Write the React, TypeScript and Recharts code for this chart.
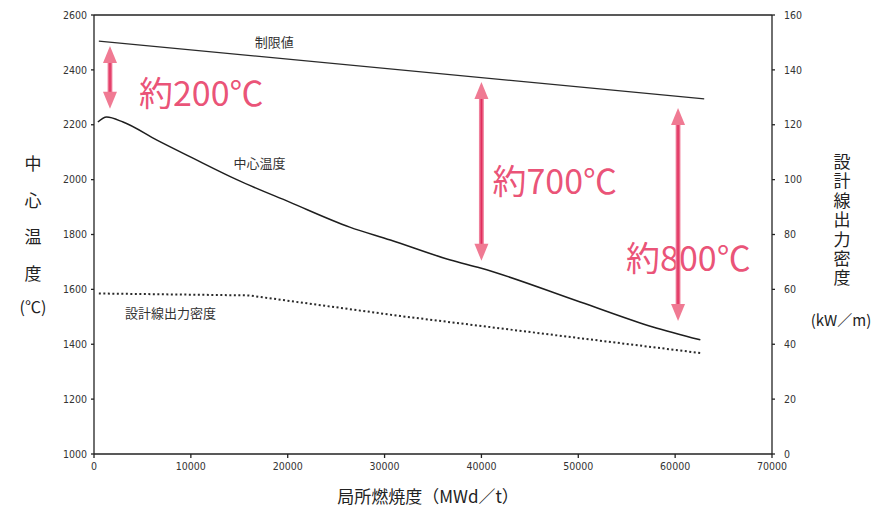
import React from 'react';
import {
    ComposedChart,
    Line,
    XAxis,
    YAxis,
    ReferenceLine,
    ReferenceDot,
} from 'recharts';

// 局所燃焼度 (MWd/t) と各曲線の値
const limitBurnup = [500, 63000];
const limitTemp = [2505, 2294];

const centerBurnup = [400, 1300, 3000, 6500, 10000, 14800, 20200, 26400, 30600, 36800, 39900, 50200, 57700, 62600];
const centerTemp = [2210, 2228, 2210, 2144, 2082, 1999, 1918, 1827, 1780, 1707, 1678, 1554, 1463, 1416];

const powerBurnup = [500, 16000, 31600, 62600];
const powerDensity = [58.5, 57.8, 50.3, 36.8];

const burnupTicks = [0, 10000, 20000, 30000, 40000, 50000, 60000, 70000];
const tempTicks = [1000, 1200, 1400, 1600, 1800, 2000, 2200, 2400, 2600];
const powerTicks = [0, 20, 40, 60, 80, 100, 120, 140, 160];

// 温度差の矢印
const arrowBurnup = [1650, 40000, 60300];
const arrowTop = [2487, 2356, 2261];
const arrowBottom = [2258, 1704, 1485];
const arrowLabels = ['約200℃', '約700℃', '約800℃'];
const arrowLabelOffset = [
    { dx: 29, dy: 14 },
    { dx: 11, dy: 8 },
    { dx: -52, dy: 42 },
];

// 曲線名
const curveNames = ['制限値', '中心温度', '設計線出力密度'];
const curveNameBurnup = [16600, 14400, 3200];
const curveNameTemp = [2502, 2064, 1514];

const limitData = limitBurnup.map((b, i) => ({ burnup: b, temp: limitTemp[i] }));
const centerData = centerBurnup.map((b, i) => ({ burnup: b, temp: centerTemp[i] }));
const powerData = powerBurnup.map((b, i) => ({ burnup: b, power: powerDensity[i] }));

const tickFont = {
    fontSize: 10.5,
    fill: '#333',
    fontFamily: "'Liberation Sans Narrow', 'DejaVu Sans Condensed', sans-serif",
};
const cjkFont = "'Noto Sans CJK JP', 'Noto Sans', sans-serif";
const axisColor = '#222';

const LeftTitle = (props: any) => {
    const { viewBox } = props;
    const cx = 33;
    const cy = viewBox.y + viewBox.height / 2;
    const chars = ['中', '心', '温', '度', '(℃)'];
    const offsets = [-72, -35, 1, 38, 71];
    return (
        <g>
            {chars.map((c, i) => (
                <text key={c} x={cx} y={cy + offsets[i]} textAnchor="middle" dominantBaseline="central"
                    fontSize={c.length > 1 ? 16 : 17} fontFamily={cjkFont} fill="#222">
                    {c}
                </text>
            ))}
        </g>
    );
};

// 右軸の縦書きタイトル
const RightTitle = () => (
    <g>
        <text x={842} y={153} fontSize={17} fontFamily={cjkFont} fill="#222"
            style={{ writingMode: 'vertical-rl', letterSpacing: 2.4 }}>
            設計線出力密度
        </text>
        <text x={841} y={319} textAnchor="middle" dominantBaseline="central"
            fontSize={15} fontFamily={cjkFont} fill="#222">
            (kW／m)
        </text>
    </g>
);

const BottomTitle = (props: any) => {
    const { viewBox } = props;
    return (
        <text x={viewBox.x + viewBox.width / 2 - 5} y={495} textAnchor="middle" dominantBaseline="central"
            fontSize={17} fontFamily={cjkFont} fill="#222">
            局所燃焼度（MWd／t）
        </text>
    );
};

const makeArrow = (idx: number) => (props: any) => {
    const { x1, y1, y2 } = props;
    const top = Math.min(y1, y2);
    const bottom = Math.max(y1, y2);
    const head = 17;
    const half = 7;
    const { dx, dy } = arrowLabelOffset[idx];
    return (
        <g>
            <text x={x1 + dx} y={(top + bottom) / 2 + dy} dominantBaseline="central"
                fontSize={34} fontFamily={cjkFont} fill="#e8436b" fillOpacity={0.92}>
                {arrowLabels[idx]}
            </text>
            <rect x={x1 - 2.5} y={top + head - 2} width={5} height={bottom - top - 2 * head + 4}
                fill="url(#shaftGrad)" />
            <polygon points={`${x1},${top} ${x1 - half},${top + head} ${x1 + half},${top + head}`} fill="#f07a93" />
            <polygon points={`${x1},${bottom} ${x1 - half},${bottom - head} ${x1 + half},${bottom - head}`} fill="#f07a93" />
        </g>
    );
};

const makeName = (idx: number) => (props: any) => (
    <text x={props.cx} y={props.cy} dominantBaseline="central" fontSize={13}
        fontFamily={cjkFont} fill="#333">
        {curveNames[idx]}
    </text>
);

const App: React.FC = () => {
    return (
        <div style={{ position: 'absolute', left: 0, top: 0, background: '#fff' }}>
            <ComposedChart width={874} height={509} margin={{ top: 15, right: 0, bottom: 0, left: 0 }}>
                <defs>
                    <linearGradient id="shaftGrad" x1="0" y1="0" x2="1" y2="0">
                        <stop offset="0%" stopColor="#f49ab0" />
                        <stop offset="50%" stopColor="#e02a5a" />
                        <stop offset="100%" stopColor="#f49ab0" />
                    </linearGradient>
                </defs>
                <XAxis
                    type="number"
                    dataKey="burnup"
                    domain={[0, 70000]}
                    ticks={burnupTicks}
                    height={55}
                    tick={tickFont}
                    tickSize={4}
                    tickMargin={5}
                    stroke={axisColor}
                    strokeWidth={1.3}
                    allowDataOverflow
                    label={<BottomTitle />}
                />
                <YAxis
                    yAxisId="temp"
                    type="number"
                    domain={[1000, 2600]}
                    ticks={tempTicks}
                    width={94}
                    tick={tickFont}
                    tickSize={3}
                    tickMargin={4}
                    stroke={axisColor}
                    strokeWidth={1.3}
                    allowDataOverflow
                    label={<LeftTitle />}
                />
                <YAxis
                    yAxisId="power"
                    orientation="right"
                    type="number"
                    domain={[0, 160]}
                    ticks={powerTicks}
                    width={102}
                    tick={tickFont}
                    tickSize={3}
                    tickMargin={9}
                    stroke={axisColor}
                    strokeWidth={1.3}
                    allowDataOverflow
                    label={<RightTitle />}
                />
                <ReferenceLine yAxisId="temp" y={2600} stroke={axisColor} strokeWidth={1.3} />

                <Line
                    yAxisId="temp"
                    data={limitData}
                    dataKey="temp"
                    type="linear"
                    stroke="#2a2a2a"
                    strokeWidth={1.3}
                    dot={false}
                    isAnimationActive={false}
                />
                <Line
                    yAxisId="temp"
                    data={centerData}
                    dataKey="temp"
                    type="monotone"
                    stroke="#1e1e1e"
                    strokeWidth={1.5}
                    dot={false}
                    isAnimationActive={false}
                />
                <Line
                    yAxisId="power"
                    data={powerData}
                    dataKey="power"
                    type="linear"
                    stroke="#2a2a2a"
                    strokeWidth={2}
                    strokeDasharray="2 2.5"
                    dot={false}
                    isAnimationActive={false}
                />

                {curveNames.map((n, i) => (
                    <ReferenceDot
                        key={n}
                        yAxisId="temp"
                        x={curveNameBurnup[i]}
                        y={curveNameTemp[i]}
                        r={0}
                        shape={makeName(i)}
                    />
                ))}

                {arrowBurnup.map((b, i) => (
                    <ReferenceLine
                        key={b}
                        yAxisId="temp"
                        segment={[{ x: b, y: arrowTop[i] }, { x: b, y: arrowBottom[i] }]}
                        stroke="none"
                        shape={makeArrow(i)}
                    />
                ))}
            </ComposedChart>
        </div>
    );
};

export default App;
